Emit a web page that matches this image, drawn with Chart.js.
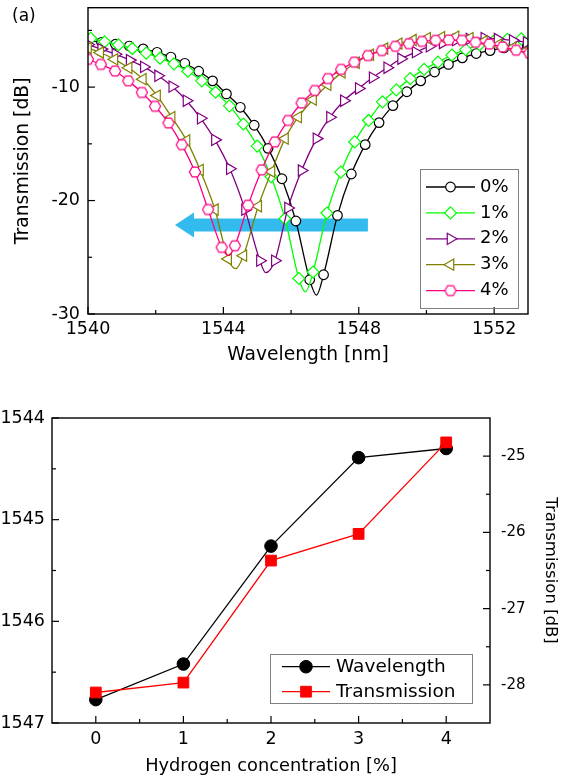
<!DOCTYPE html>
<html>
<head>
<meta charset="utf-8">
<title>Transmission spectra and dip shift vs hydrogen concentration</title>
<script src="https://cdn.jsdelivr.net/npm/chart.js"></script>
<style>
  html, body { margin: 0; padding: 0; background: #ffffff; }
  #wrap { position: relative; width: 566px; height: 779px; overflow: hidden; background: #fff; }
  #wrap canvas { position: absolute; left: 0; }
</style>
</head>
<body>
<div id="wrap">
  <canvas id="topChart" width="566" height="380" style="top:0px;width:566px;height:380px"></canvas>
  <canvas id="bottomChart" width="566" height="399" style="top:380px;width:566px;height:399px"></canvas>
</div>
<script>
// ---------------- DATA ----------------
// Panel (a): transmission spectra for each hydrogen concentration
const seriesLabels = ['0%', '1%', '2%', '3%', '4%'];

const wl0 = [1540.0, 1540.4, 1540.81, 1541.22, 1541.63, 1542.04, 1542.45, 1542.86, 1543.27, 1543.68, 1544.09, 1544.5, 1544.91, 1545.32, 1545.73, 1546.14, 1546.55, 1546.75, 1546.96, 1547.37, 1547.78, 1548.19, 1548.6, 1549.01, 1549.42, 1549.83, 1550.24, 1550.65, 1551.06, 1551.47, 1551.88, 1552.29, 1552.7, 1553.11];
const tr0 = [-5.9, -6.05, -6.22, -6.38, -6.63, -6.93, -7.35, -7.9, -8.6, -9.45, -10.6, -11.78, -13.36, -15.4, -18.08, -21.8, -26.98, -28.34, -26.54, -21.31, -17.66, -15.07, -13.13, -11.63, -10.41, -9.45, -8.67, -8.0, -7.42, -7.04, -6.78, -6.55, -6.4, -6.3];

const wl1 = [1540.08, 1540.49, 1540.9, 1541.31, 1541.72, 1542.13, 1542.54, 1542.95, 1543.36, 1543.77, 1544.18, 1544.59, 1545.0, 1545.41, 1545.82, 1546.23, 1546.42, 1546.65, 1547.06, 1547.47, 1547.88, 1548.29, 1548.7, 1549.11, 1549.52, 1549.93, 1550.34, 1550.75, 1551.16, 1551.57, 1551.98, 1552.39, 1552.8];
const tr1 = [-5.7, -6.0, -6.28, -6.6, -7.0, -7.45, -7.95, -8.6, -9.45, -10.45, -11.65, -13.25, -15.2, -17.9, -21.6, -26.87, -28.05, -26.3, -21.1, -17.5, -14.83, -12.94, -11.3, -10.24, -9.25, -8.44, -7.8, -7.18, -6.7, -6.26, -5.97, -5.78, -5.75];

const wl2 = [1540.0, 1540.39, 1540.81, 1541.23, 1541.65, 1542.07, 1542.49, 1542.91, 1543.33, 1543.75, 1544.19, 1544.64, 1545.08, 1545.25, 1545.52, 1545.91, 1546.31, 1546.75, 1547.15, 1547.56, 1548.0, 1548.41, 1548.84, 1549.25, 1549.68, 1550.09, 1550.48, 1550.87, 1551.27, 1551.71, 1552.1, 1552.55, 1552.96];
const tr2 = [-6.25, -6.65, -7.1, -7.62, -8.22, -9.0, -9.95, -11.2, -12.75, -14.65, -17.2, -20.8, -25.3, -26.35, -25.3, -20.65, -17.35, -14.54, -12.65, -11.2, -10.12, -9.16, -8.29, -7.5, -6.92, -6.4, -6.11, -5.85, -5.75, -5.68, -5.76, -5.88, -6.05];

const wl3 = [1540.0, 1540.36, 1540.78, 1541.2, 1541.62, 1542.04, 1542.47, 1542.91, 1543.31, 1543.75, 1544.14, 1544.37, 1544.59, 1545.03, 1545.42, 1545.82, 1546.21, 1546.65, 1547.08, 1547.5, 1547.92, 1548.34, 1548.76, 1549.18, 1549.6, 1550.02, 1550.44, 1550.86, 1551.28, 1551.7, 1552.12, 1552.54, 1552.96];
const tr3 = [-6.55, -6.95, -7.55, -8.3, -9.3, -10.75, -12.65, -14.7, -17.3, -20.79, -25.15, -26.0, -24.86, -20.5, -17.45, -14.54, -12.65, -11.1, -9.8, -8.7, -7.85, -7.15, -6.6, -6.17, -5.85, -5.68, -5.6, -5.55, -5.68, -5.96, -6.26, -6.55, -6.8];

const wl4 = [1540.0, 1540.38, 1540.8, 1541.19, 1541.59, 1541.98, 1542.38, 1542.77, 1543.16, 1543.55, 1543.95, 1544.16, 1544.34, 1544.73, 1545.13, 1545.52, 1545.91, 1546.31, 1546.7, 1547.09, 1547.48, 1547.87, 1548.27, 1548.68, 1549.08, 1549.48, 1549.87, 1550.27, 1550.66, 1551.05, 1551.45, 1551.86, 1552.25, 1552.65, 1553.04];
const tr4 = [-7.55, -8.0, -8.58, -9.45, -10.47, -11.69, -13.16, -15.07, -17.48, -20.79, -24.13, -24.85, -23.98, -20.41, -17.3, -14.83, -12.94, -11.4, -10.3, -9.25, -8.44, -7.8, -7.22, -6.78, -6.4, -6.17, -5.97, -5.88, -5.85, -5.88, -6.05, -6.2, -6.46, -6.75, -7.0];

const wlTicks = [1540, 1544, 1548, 1552];
const wlMinorTicks = [1542, 1546, 1550];
const trTicks = [-30, -20, -10];
const trMinorTicks = [-25, -15, -5];

// Panel (b): dip wavelength and dip transmission vs hydrogen concentration
const hConc = [0, 1, 2, 3, 4];
const dipWavelength = [1546.77, 1546.42, 1545.26, 1544.39, 1544.30];
const dipTransmission = [-28.10, -27.97, -26.37, -26.02, -24.82];
const bottomLabels = ['Wavelength', 'Transmission'];

const hTicks = [0, 1, 2, 3, 4];
const hMinorTicks = [0.5, 1.5, 2.5, 3.5];
const dipWlTicks = [1544, 1545, 1546, 1547];
const dipWlMinorTicks = [1544.5, 1545.5, 1546.5];
const dipTrTicks = [-28, -27, -26, -25];
const dipTrMinorTicks = [-27.5, -26.5, -25.5];

// ---------------- STYLE ----------------
const FONT = "'DejaVu Sans', 'Liberation Sans', sans-serif";
Chart.defaults.font.family = FONT;
Chart.defaults.color = '#000';

const topColors = ['#000000', '#00ff00', '#800080', '#808000', '#ff0080'];

function hexagonImage(r, color, lw) {
  const s = Math.ceil(2 * r + 2 * lw + 2);
  const c = document.createElement('canvas');
  c.width = s; c.height = s;
  const g = c.getContext('2d');
  g.beginPath();
  for (let k = 0; k < 6; k++) {
    const a = Math.PI / 3 * k;
    const px = s / 2 + r * Math.cos(a), py = s / 2 + r * Math.sin(a);
    if (k) g.lineTo(px, py); else g.moveTo(px, py);
  }
  g.closePath();
  g.fillStyle = '#fff'; g.fill();
  g.lineWidth = lw; g.strokeStyle = color; g.stroke();
  return c;
}

const topMarkers = [
  { pointStyle: 'circle', radius: 4.8, rotation: 0 },
  { pointStyle: 'rectRot', radius: 6, rotation: 0 },
  { pointStyle: 'triangle', radius: 6.5, rotation: 90 },
  { pointStyle: 'triangle', radius: 6.5, rotation: -90 },
  { pointStyle: hexagonImage(5.6, topColors[4], 1.2), radius: 5.6, rotation: 0 }
];

function drawMarker(ctx, ds, x, y) {
  const st = ds.pointStyle, r = ds.markerRadius, rot = (ds.pointRotation || 0) * Math.PI / 180;
  ctx.save();
  ctx.lineWidth = ds.pointBorderWidth;
  ctx.strokeStyle = ds.pointBorderColor;
  ctx.fillStyle = ds.pointBackgroundColor;
  if (typeof st === 'object') {
    ctx.drawImage(st, x - st.width / 2, y - st.height / 2);
    ctx.restore();
    return;
  }
  ctx.beginPath();
  if (st === 'circle') {
    ctx.arc(x, y, r, 0, 2 * Math.PI);
  } else if (st === 'rectRot') {
    ctx.moveTo(x - r, y); ctx.lineTo(x, y - r); ctx.lineTo(x + r, y); ctx.lineTo(x, y + r); ctx.closePath();
  } else if (st === 'rect') {
    const s = r * Math.SQRT1_2;
    ctx.rect(x - s, y - s, 2 * s, 2 * s);
  } else if (st === 'triangle') {
    let a = rot;
    for (let k = 0; k < 3; k++) {
      const px = x + Math.sin(a) * r, py = y - Math.cos(a) * r;
      if (k) ctx.lineTo(px, py); else ctx.moveTo(px, py);
      a += 2 * Math.PI / 3;
    }
    ctx.closePath();
  }
  ctx.fill();
  ctx.stroke();
  ctx.restore();
}

// Frame + inward tick marks
const frameTicks = {
  id: 'frameTicks',
  afterDraw(chart, args, o) {
    const { ctx, chartArea: a } = chart;
    ctx.save();
    ctx.strokeStyle = '#000';
    ctx.lineWidth = 1.4;
    ctx.strokeRect(a.left, a.top, a.right - a.left, a.bottom - a.top);
    ctx.lineWidth = 1.2;
    for (const t of o.list) {
      const s = chart.scales[t.id];
      for (const [vals, len] of [[t.major, 7], [t.minor, 4]]) {
        for (const v of vals) {
          const p = s.getPixelForValue(v);
          ctx.beginPath();
          if (t.side === 'bottom') { ctx.moveTo(p, a.bottom); ctx.lineTo(p, a.bottom - len); }
          else if (t.side === 'left') { ctx.moveTo(a.left, p); ctx.lineTo(a.left + len, p); }
          else { ctx.moveTo(a.right, p); ctx.lineTo(a.right - len, p); }
          ctx.stroke();
        }
      }
    }
    ctx.restore();
  }
};

// Boxed legend inside the plot
const boxLegend = {
  id: 'boxLegend',
  afterDraw(chart, args, o) {
    const ctx = chart.ctx;
    ctx.save();
    ctx.lineWidth = 1;
    ctx.strokeStyle = '#808080';
    ctx.strokeRect(o.x0 + 0.5, o.y0 + 0.5, o.x1 - o.x0, o.y1 - o.y0);
    ctx.font = o.font;
    ctx.textBaseline = 'middle';
    ctx.textAlign = 'left';
    o.items.forEach((idx, k) => {
      const ds = chart.data.datasets[idx];
      const y = o.firstY + k * o.stepY;
      ctx.strokeStyle = ds.borderColor;
      ctx.lineWidth = ds.borderWidth;
      ctx.beginPath(); ctx.moveTo(o.lineX0, y); ctx.lineTo(o.lineX1, y); ctx.stroke();
      drawMarker(ctx, ds, (o.lineX0 + o.lineX1) / 2, y);
      ctx.fillStyle = '#000';
      ctx.fillText(ds.label, o.textX, y);
    });
    ctx.restore();
  }
};

// Shift arrow (annotation) and panel tag
const arrowSpec = { from: 1548.27, to: 1542.57, level: -22.16, color: '#33bbee', half: 6.5, headHalf: 12.5, headLen: 19 };
const shiftArrow = {
  id: 'shiftArrow',
  beforeDatasetsDraw(chart) {
    const { ctx } = chart;
    const xs = chart.scales.x, ys = chart.scales.y;
    const x0 = xs.getPixelForValue(arrowSpec.from), x1 = xs.getPixelForValue(arrowSpec.to);
    const y = ys.getPixelForValue(arrowSpec.level);
    const h = arrowSpec.half, H = arrowSpec.headHalf, L = arrowSpec.headLen;
    ctx.save();
    ctx.fillStyle = arrowSpec.color;
    ctx.beginPath();
    ctx.moveTo(x0, y - h);
    ctx.lineTo(x1 + L, y - h);
    ctx.lineTo(x1 + L, y - H);
    ctx.lineTo(x1, y);
    ctx.lineTo(x1 + L, y + H);
    ctx.lineTo(x1 + L, y + h);
    ctx.lineTo(x0, y + h);
    ctx.closePath();
    ctx.fill();
    ctx.restore();
  }
};
const panelTag = {
  id: 'panelTag',
  afterDraw(chart, args, o) {
    const ctx = chart.ctx;
    ctx.save();
    ctx.font = o.font;
    ctx.fillStyle = '#000';
    ctx.textBaseline = 'middle';
    ctx.textAlign = 'left';
    ctx.fillText(o.text, o.x, o.y);
    ctx.restore();
  }
};

function zeroPad(s) { s.paddingLeft = 0; s.paddingRight = 0; s.paddingTop = 0; s.paddingBottom = 0; }
function fixedTicks(list) { return (s) => { s.ticks = list.map(v => ({ value: v })); }; }

// ---------------- TOP CHART ----------------
const wls = [wl0, wl1, wl2, wl3, wl4];
const trs = [tr0, tr1, tr2, tr3, tr4];

const topDatasets = seriesLabels.map((lab, i) => {
  const xs = wls[i], ys = trs[i];
  let minIdx = 0;
  ys.forEach((v, k) => { if (v < ys[minIdx]) minIdx = k; });
  const m = topMarkers[i];
  return {
    label: lab,
    data: xs.map((x, k) => ({ x: x, y: ys[k] })),
    borderColor: topColors[i],
    borderWidth: 1.3,
    backgroundColor: '#fff',
    pointStyle: m.pointStyle,
    pointRotation: m.rotation,
    markerRadius: m.radius,
    pointRadius: (ctx) => ctx.dataIndex === minIdx ? 0 : m.radius,
    pointHoverRadius: 0,
    pointBorderColor: topColors[i],
    pointBackgroundColor: '#fff',
    pointBorderWidth: 1.2,
    cubicInterpolationMode: 'monotone',
    order: 5 - i
  };
});

new Chart(document.getElementById('topChart'), {
  type: 'line',
  data: { datasets: topDatasets },
  options: {
    responsive: false,
    devicePixelRatio: 1,
    animation: false,
    events: [],
    layout: { padding: { left: 0, right: 38, top: 5, bottom: 0 } },
    plugins: {
      legend: { display: false },
      tooltip: { enabled: false },
      frameTicks: { list: [
        { id: 'x', side: 'bottom', major: wlTicks, minor: wlMinorTicks },
        { id: 'y', side: 'left', major: trTicks, minor: trMinorTicks }
      ] },
      boxLegend: { x0: 420, y0: 169, x1: 518, y1: 308, firstY: 187, stepY: 25.9, lineX0: 426, lineX1: 475, textX: 480, font: "18px " + FONT, items: [0, 1, 2, 3, 4] },
      panelTag: { text: '(a)', x: 12, y: 17, font: "17px " + FONT }
    },
    scales: {
      x: {
        type: 'linear', position: 'bottom', min: 1540, max: 1553,
        afterBuildTicks: fixedTicks(wlTicks),
        afterFit: (s) => { s.height = 66; zeroPad(s); },
        grid: { display: false, drawTicks: false },
        border: { display: false },
        ticks: { autoSkip: false, maxRotation: 0, padding: 5, font: { size: 17.5 }, color: '#000', callback: (v) => String(v) },
        title: { display: true, text: 'Wavelength [nm]', font: { size: 18.7 }, color: '#000', padding: { top: 0, bottom: 14 } }
      },
      y: {
        type: 'linear', position: 'left', min: -30, max: -3,
        afterBuildTicks: fixedTicks(trTicks),
        afterFit: (s) => { s.width = 88; zeroPad(s); },
        grid: { display: false, drawTicks: false },
        border: { display: false },
        ticks: { autoSkip: false, padding: 8, font: { size: 17.5 }, color: '#000', callback: (v) => String(v) },
        title: { display: true, text: 'Transmission [dB]', font: { size: 18.8 }, color: '#000', padding: { top: 12, bottom: 0 } }
      }
    }
  },
  plugins: [shiftArrow, frameTicks, boxLegend, panelTag]
});

// ---------------- BOTTOM CHART ----------------
new Chart(document.getElementById('bottomChart'), {
  type: 'line',
  data: {
    datasets: [
      {
        label: bottomLabels[0],
        data: hConc.map((x, k) => ({ x: x, y: dipWavelength[k] })),
        yAxisID: 'yL',
        borderColor: '#000000', borderWidth: 1.3,
        backgroundColor: '#000000',
        pointStyle: 'circle', markerRadius: 6.3, pointRadius: 6.3, pointHoverRadius: 0,
        pointBorderColor: '#000000', pointBackgroundColor: '#000000', pointBorderWidth: 1,
        tension: 0, order: 2
      },
      {
        label: bottomLabels[1],
        data: hConc.map((x, k) => ({ x: x, y: dipTransmission[k] })),
        yAxisID: 'yR',
        borderColor: '#ff0000', borderWidth: 1.3,
        backgroundColor: '#ff0000',
        pointStyle: 'rect', markerRadius: 7.6, pointRadius: 7.6, pointHoverRadius: 0,
        pointBorderColor: '#ff0000', pointBackgroundColor: '#ff0000', pointBorderWidth: 1,
        tension: 0, order: 1
      }
    ]
  },
  options: {
    responsive: false,
    devicePixelRatio: 1,
    animation: false,
    events: [],
    layout: { padding: { left: 0, right: 0, top: 38, bottom: 0 } },
    plugins: {
      legend: { display: false },
      tooltip: { enabled: false },
      frameTicks: { list: [
        { id: 'x', side: 'bottom', major: hTicks, minor: hMinorTicks },
        { id: 'yL', side: 'left', major: dipWlTicks, minor: dipWlMinorTicks },
        { id: 'yR', side: 'right', major: dipTrTicks, minor: dipTrMinorTicks }
      ] },
      boxLegend: { x0: 270, y0: 274, x1: 472, y1: 323, firstY: 286.7, stepY: 25, lineX0: 282, lineX1: 330, textX: 336, font: "18.5px " + FONT, items: [0, 1] }
    },
    scales: {
      x: {
        type: 'linear', position: 'bottom', min: -0.5, max: 4.5,
        afterBuildTicks: fixedTicks(hTicks),
        afterFit: (s) => { s.height = 56; zeroPad(s); },
        grid: { display: false, drawTicks: false },
        border: { display: false },
        ticks: { autoSkip: false, maxRotation: 0, padding: 5.5, font: { size: 17.5 }, color: '#000', callback: (v) => String(v) },
        title: { display: true, text: 'Hydrogen concentration [%]', font: { size: 17.8 }, color: '#000', padding: { top: 0, bottom: 2 } }
      },
      yL: {
        type: 'linear', position: 'left', min: 1544, max: 1547, reverse: true,
        afterBuildTicks: fixedTicks(dipWlTicks),
        afterFit: (s) => { s.width = 52; zeroPad(s); },
        grid: { display: false, drawTicks: false },
        border: { display: false },
        ticks: { autoSkip: false, padding: 7, font: { size: 17.5 }, color: '#000', callback: (v) => String(v) }
      },
      yR: {
        type: 'linear', position: 'right', min: -28.5, max: -24.5,
        afterBuildTicks: fixedTicks(dipTrTicks),
        afterFit: (s) => { s.width = 76; zeroPad(s); },
        grid: { display: false, drawTicks: false },
        border: { display: false },
        ticks: { autoSkip: false, padding: 11, font: { size: 15 }, color: '#000', callback: (v) => String(v) },
        title: { display: true, text: 'Transmission [dB]', font: { size: 16.5 }, color: '#000', padding: { top: 6, bottom: 0 } }
      }
    }
  },
  plugins: [frameTicks, boxLegend]
});
</script>
</body>
</html>
